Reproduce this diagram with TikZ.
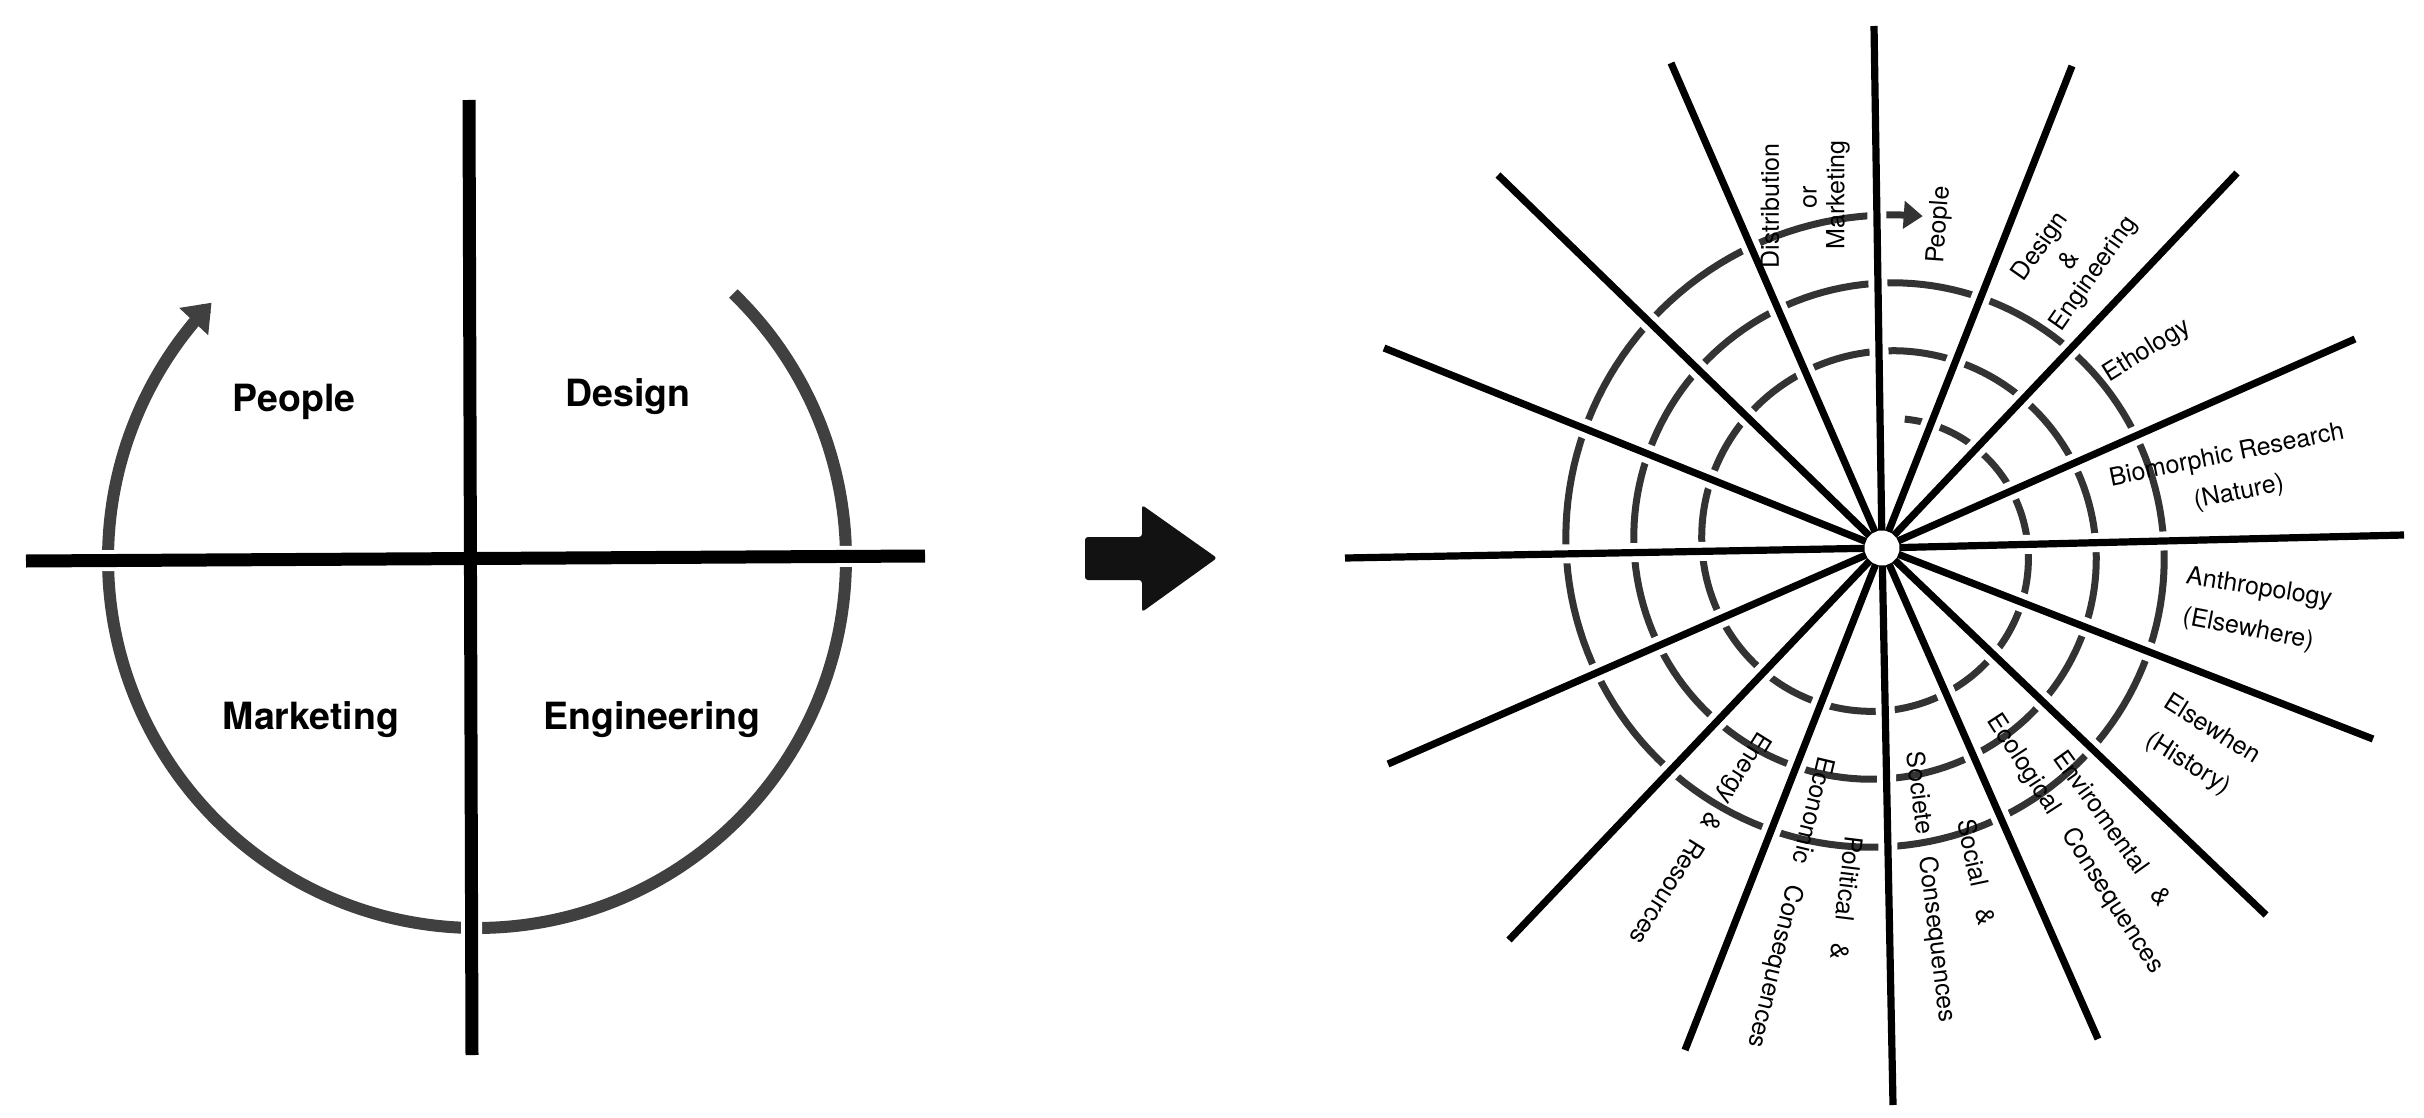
\documentclass[tikz,border=0pt]{standalone}
\usepackage{fontspec}
\newfontfamily\heros{TeX Gyre Heros}
\usetikzlibrary{arrows.meta}
\begin{document}
\begin{tikzpicture}[x=0.5pt,y=-0.5pt,
  quadlabel/.style={font=\heros\bfseries\fontsize{18.75}{22}\selectfont, inner sep=0pt},
  spokelabel/.style={font=\heros\fontsize{12.5}{15}\selectfont, inner sep=0pt},
  widelabel/.style={font={\heros\fontsize{12.5}{15}\selectfont\spaceskip=0.9em\relax}, inner sep=0pt},
  axisline/.style={line width=6.5pt, draw=black},
  axisgap/.style={line width=10.5pt, draw=white},
  spokeline/.style={line width=3.6pt, draw=black},
  spokegap/.style={line width=9.5pt, draw=white},
  cyclearc/.style={line width=6pt, draw=black!75},
  spiralline/.style={line width=3.5pt, draw=black!80},
]
\useasboundingbox (0,0) rectangle (2424,1118);
\fill[white] (0,0) rectangle (2424,1118);

% ---------- left diagram ----------
\coordinate (vtop) at (469,100);
\coordinate (vbot) at (472,1055);
\coordinate (hl) at (26,561);
\coordinate (hr) at (925,556);
\draw[cyclearc, -{Triangle[length=13pt,width=19pt]}]
  plot[domain=0:270, samples=240, variable=\t]
  ({477+369*cos(46-\t)}, {559-369*sin(46-\t)});
\draw[axisgap] (vtop) -- (vbot);
\draw[axisgap] (hl) -- (hr);
\draw[axisline] (vtop) -- (vbot);
\draw[axisline] (hl) -- (hr);

\node[quadlabel] (qpeople) at (294,402) {People};
\node[quadlabel] (qdesign) at (628,397) {Design};
\node[quadlabel] (qmarketing) at (311,720) {Marketing};
\node[quadlabel] (qengineering) at (652,720) {Engineering};

% ---------- big arrow ----------
\fill[black!93, rounded corners=1.5pt] (1085,537) -- (1142,537) -- (1142,505) -- (1217,558)
  -- (1142,612) -- (1142,580) -- (1085,580) -- cycle;

% ---------- right diagram ----------
\draw[spiralline, -{Triangle[length=9.5pt,width=13.5pt]}]
  plot[domain=10:1087, samples=500, variable=\t]
  ({1882+(129+0.18889*\t)*cos(90-\t)}, {548-(129+0.18889*\t)*sin(90-\t)});

\node[circle, minimum size=17pt, inner sep=0pt, fill=white] (hub) at (1882,548) {};
\coordinate (s1) at (1874,26);
\coordinate (s2) at (2072,66);
\coordinate (s3) at (2237,173);
\coordinate (s4) at (2355,339);
\coordinate (s5) at (2404,535);
\coordinate (s6) at (2373,739);
\coordinate (s7) at (2266,915);
\coordinate (s8) at (2098,1039);
\coordinate (s9) at (1893,1105);
\coordinate (s10) at (1685,1050);
\coordinate (s11) at (1509,940);
\coordinate (s12) at (1388,764);
\coordinate (s13) at (1345,558);
\coordinate (s14) at (1384,348);
\coordinate (s15) at (1498,175);
\coordinate (s16) at (1671,63);
\foreach \i in {1,...,16} \draw[spokegap] (hub) -- (s\i);
\foreach \i in {1,...,16} \draw[spokeline] (hub) -- (s\i);

\node[spokelabel, rotate=90] (tdist) at (1770,206) {Distribution};
\node[spokelabel, rotate=90] (tor) at (1810,197) {or};
\node[spokelabel, rotate=90] (tmark) at (1838,195) {Marketing};
\node[spokelabel, rotate=86] (tpeople) at (1940,225) {People};
\node[spokelabel, rotate=55] (tdesign) at (2041,247) {Design};
\node[spokelabel, rotate=55] (tamp) at (2068,260) {\&};
\node[spokelabel, rotate=55] (teng) at (2094,274) {Engineering};
\node[spokelabel, rotate=32] (teth) at (2147,351) {Ethology};
\node[spokelabel, rotate=11.5] (tbio) at (2227,456) {Biomorphic Research};
\node[spokelabel, rotate=11.5] (tnat) at (2239,493) {(Nature)};
\node[spokelabel, rotate=-9] (tanth) at (2259,589) {Anthropology};
\node[spokelabel, rotate=-11] (telsewhere) at (2248,630) {(Elsewhere)};
\node[spokelabel, rotate=-32] (telsewhen) at (2213,728) {Elsewhen};
\node[spokelabel, rotate=-32] (thist) at (2188,764) {(History)};
\node[widelabel, rotate=-54.5] (tenv) at (2113,828) {Enviromental \&};
\node[widelabel, rotate=-57] (teco) at (2075,844) {Ecological Consequences};
\node[widelabel, rotate=-78] (tsocial) at (1977,872) {Social \&};
\node[widelabel, rotate=-83] (tsociete) at (1930,887) {Societe Consequences};
\node[widelabel, rotate=-97] (tpol) at (1847,898) {Political \&};
\node[widelabel, rotate=-103.5] (tecon) at (1790,902) {Economic Consequences};
\node[spokelabel, rotate=-122] (tenergy) at (1699,838) {Energy\hspace{0.6em}\&\hspace{0.6em}Resources};
\end{tikzpicture}
\end{document}
